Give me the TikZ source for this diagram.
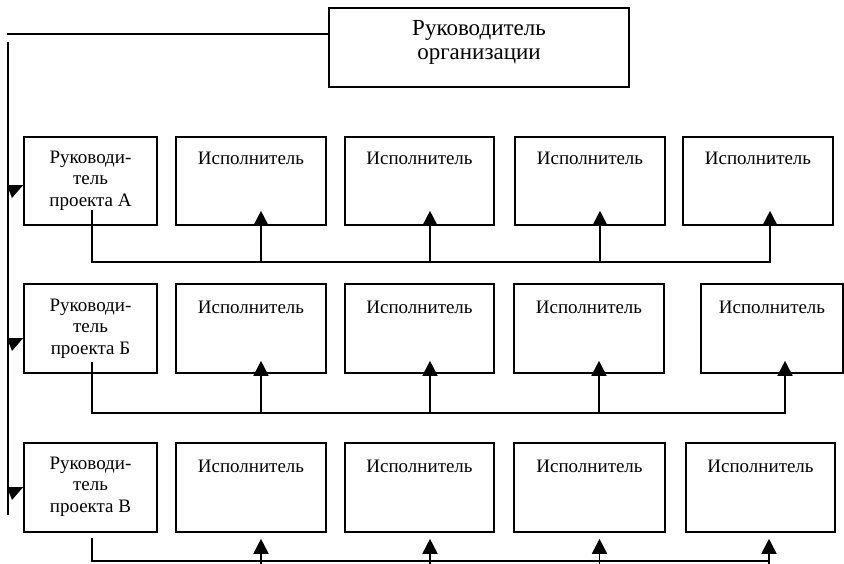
\documentclass[tikz,border=0pt]{standalone}
\usepackage{fontspec}
\setmainfont{Liberation Serif}
\usetikzlibrary{calc,arrows.meta}
\begin{document}
\begin{tikzpicture}[x=1pt,y=-1pt,
  box/.style={draw,line width=1.6pt,rectangle,inner sep=0pt},
  txt/.style={font=\fontsize{19}{21.5}\selectfont,inner sep=0pt,align=center},
  toptxt/.style={font=\fontsize{23}{24}\selectfont,inner sep=0pt,align=center},
  line/.style={line width=1.8pt},
  arr/.style={line width=1.8pt,-{Triangle[width=15pt,length=15pt]}},
  lefttip/.style={fill=black}]
\useasboundingbox (0,0) rectangle (844,563);
\fill[white] (0,0) rectangle (844,563);
% top box
\node[box,minimum width=300pt,minimum height=79pt] (top) at (479,47.5) {};
\node[toptxt] (toptext) at (479,42) {Руководитель\\ организации};
% macro-like boxes
\newcommand{\mybox}[5]{\node[box,minimum width=#4pt-#3pt,minimum height=#5pt] (#1) at ({(#3+#4)/2},#2) {};}
% Row 1: y 137-225
\foreach \n/\a/\b in {b2/176/326,b3/345/494,b4/515/665,b5/683/833}{
  \node[box,minimum width=\b-\a,minimum height=88] (r1\n) at ({(\a+\b)/2},181) {};
  \node[txt] at ($(r1\n.north)+(0,22)$) {Исполнитель};
}
\node[box,minimum width=133,minimum height=88] (r1b1) at (90.5,181) {};
\node[txt] (r1t) at ($(r1b1.north)+(0,44.5)$) {Руководи-\\тель\\проекта А};
% Row 2: y 284-373
\foreach \n/\a/\b in {b2/176/326,b3/345/494,b4/514/664,b5/701/843}{
  \node[box,minimum width=\b-\a,minimum height=89] (r2\n) at ({(\a+\b)/2},328.5) {};
  \node[txt] at ($(r2\n.north)+(0,24)$) {Исполнитель};
}
\node[box,minimum width=133,minimum height=89] (r2b1) at (90.5,328.5) {};
\node[txt] (r2t) at ($(r2b1.north)+(0,45.5)$) {Руководи-\\тель\\проекта Б};
% Row 3: y 443-532
\foreach \n/\a/\b in {b2/176/326,b3/345/494,b4/514/665,b5/686/835}{
  \node[box,minimum width=\b-\a,minimum height=89] (r3\n) at ({(\a+\b)/2},487.5) {};
  \node[txt] at ($(r3\n.north)+(0,24)$) {Исполнитель};
}
\node[box,minimum width=133,minimum height=89] (r3b1) at (90.5,487.5) {};
\node[txt] (r3t) at ($(r3b1.north)+(0,44.5)$) {Руководи-\\тель\\проекта В};
% top connector and left bus
\coordinate (tl) at (7,34);
\draw[line] (tl) -- (tl -| top.west);
\coordinate (vtop) at (8,42);
\coordinate (vbot) at (8,515);
\draw[line] (vtop) -- (vbot);
% left arrow tips
\foreach \r/\y in {r1/185,r2/338,r3/487}{
  \fill[lefttip] (7,\y) -- (\r b1.west |- 0,\y) -- (12,\y+13) -- cycle;
}
% Row 1 connectors
\coordinate (r1s) at (92,210);
\coordinate (r1c) at (92,262);
\coordinate (r1e) at (770,262);
\draw[line] (r1s) -- (r1c) -- (r1e);
\foreach \n/\d in {b2/10,b3/10.5,b4/10,b5/12}{
  \draw[arr] ($(r1\n.south)+(\d,37)$) -- ($(r1\n.south)+(\d,-15)$);
}
% Row 2 connectors
\coordinate (r2s) at (92,362);
\coordinate (r2c) at (92,413);
\coordinate (r2e) at (785,413);
\draw[line] (r2s) -- (r2c) -- (r2e);
\foreach \n/\d in {b2/10,b3/10.5,b4/10,b5/13}{
  \draw[arr] ($(r2\n.south)+(\d,40)$) -- ($(r2\n.south)+(\d,-13)$);
}
% Row 3 connectors
\coordinate (r3s) at (92,538);
\coordinate (r3c) at (92,561);
\coordinate (r3e) at (769,561);
\draw[line] (r3s) -- (r3c) -- (r3e);
\foreach \n/\d in {b2/10,b3/10.5,b4/10,b5/8.5}{
  \draw[arr] ($(r3\n.south)+(\d,31)$) -- ($(r3\n.south)+(\d,6)$);
}
\end{tikzpicture}
\end{document}
